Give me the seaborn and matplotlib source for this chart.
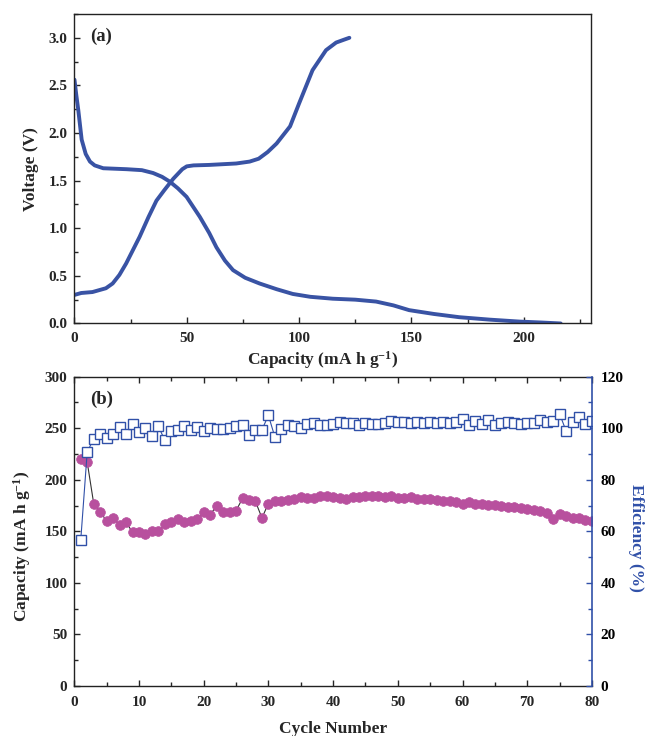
import numpy as np
import pandas as pd
import matplotlib
matplotlib.use("Agg")
import matplotlib.pyplot as plt
from matplotlib.ticker import MultipleLocator
import seaborn as sns

# ---------------- data ----------------
charge_cap = [0, 3, 8, 14, 17, 20, 23, 26, 29, 33, 36.5, 40, 44, 48, 50, 53, 60, 72,
              78, 82, 86, 90, 96, 100, 106, 112, 116.5, 120, 122.4]
charge_v = [0.30, 0.32, 0.33, 0.37, 0.42, 0.51, 0.63, 0.77, 0.91, 1.12, 1.29, 1.40, 1.52,
            1.62, 1.65, 1.66, 1.665, 1.68, 1.70, 1.73, 1.80, 1.89, 2.07, 2.31, 2.66, 2.87,
            2.95, 2.98, 3.00]

discharge_cap = [0, 0.8, 1.7, 3.2, 5, 6.9, 9, 12.8, 18, 23.2, 30, 35, 39, 42.4, 46, 49.9,
                 55.8, 60, 63.2, 67, 70.6, 76, 82.4, 90, 97.2, 105, 115, 125, 134.3, 142,
                 149, 160, 171.3, 185, 198, 208, 216.5]
discharge_v = [2.56, 2.40, 2.24, 1.93, 1.78, 1.70, 1.66, 1.63, 1.625, 1.62, 1.61, 1.58,
               1.54, 1.49, 1.42, 1.33, 1.12, 0.95, 0.80, 0.66, 0.56, 0.48, 0.42, 0.36,
               0.31, 0.28, 0.26, 0.25, 0.23, 0.19, 0.14, 0.10, 0.066, 0.04, 0.02, 0.01, 0.0]

cycles = list(range(1, 81))
capacity = [220, 217, 177, 169, 160, 163, 156, 159, 149, 149, 147, 150, 150, 157, 159, 162,
            159, 160, 162, 169, 166, 175, 169, 169, 170, 182, 180, 179, 163, 177, 179, 179,
            180, 181, 183, 182, 182, 184, 184, 183, 182, 181, 183, 183, 184, 184, 184, 183,
            184, 182, 182, 183, 181, 181, 181, 180, 179, 179, 178, 177, 178, 177, 177, 176,
            176, 175, 174, 174, 173, 172, 171, 170, 168, 162, 167, 165, 163, 163, 161, 160]
efficiency = [56.7, 90.9, 95.8, 97.9, 96.3, 97.9, 100.3, 97.9, 101.7, 98.4, 100.1, 96.8,
              100.7, 95.3, 98.8, 99.4, 101.0, 99.4, 100.3, 98.8, 99.9, 99.8, 99.8, 99.9,
              100.7, 101.4, 97.3, 99.4, 99.4, 105.0, 96.6, 99.8, 101.2, 100.7, 100.1, 101.6,
              102.0, 101.4, 101.1, 101.6, 102.4, 102.0, 102.2, 101.4, 102.2, 101.6, 101.6,
              102.0, 102.9, 102.4, 102.5, 102.0, 102.5, 102.2, 102.5, 102.2, 102.3, 102.0,
              102.3, 103.7, 101.1, 102.7, 101.6, 103.1, 101.3, 102.0, 102.4, 102.0, 101.6,
              102.0, 102.0, 103.1, 102.3, 102.7, 105.6, 99.0, 102.3, 104.2, 101.7, 102.7]

top_xticks = [0, 50, 100, 150, 200]
top_yticks = [0.0, 0.5, 1.0, 1.5, 2.0, 2.5, 3.0]
bot_xticks = [0, 10, 20, 30, 40, 50, 60, 70, 80]
cap_ticks = [0, 50, 100, 150, 200, 250, 300]
eff_ticks = [0, 20, 40, 60, 80, 100, 120]

# ---------------- style ----------------
sns.set_theme(style="ticks")
plt.rcParams["font.family"] = ["Liberation Serif", "DejaVu Serif"]
plt.rcParams["font.weight"] = "bold"
plt.rcParams["axes.labelweight"] = "bold"
plt.rcParams["mathtext.fontset"] = "custom"
plt.rcParams["mathtext.rm"] = "Liberation Serif:bold"
plt.rcParams["mathtext.bf"] = "Liberation Serif:bold"
plt.rcParams["mathtext.it"] = "Liberation Serif:bold:italic"
plt.rcParams["xtick.direction"] = "in"
plt.rcParams["ytick.direction"] = "in"

LINE_BLUE = "#3953A4"
SQ_BLUE = "#3050A8"
MAGENTA = "#B8509E"
TICK_FS = 11
LAB_FS = 12.5

fig = plt.figure(figsize=(6.46, 7.36), dpi=100)
ax1 = fig.add_axes([0.1153, 0.5605, 0.7996, 0.4205])
ax2 = fig.add_axes([0.1150, 0.0679, 0.8013, 0.4203])

# ---------------- panel (a) ----------------
df_c = pd.DataFrame({"cap": charge_cap, "v": charge_v})
df_d = pd.DataFrame({"cap": discharge_cap, "v": discharge_v})
sns.lineplot(data=df_c, x="cap", y="v", ax=ax1, color=LINE_BLUE, lw=2.8,
             sort=False, estimator=None, solid_capstyle="round")
sns.lineplot(data=df_d, x="cap", y="v", ax=ax1, color=LINE_BLUE, lw=2.8,
             sort=False, estimator=None, solid_capstyle="round")
ax1.set_xlim(0, 230)
ax1.set_ylim(0, 3.25)
ax1.set_xticks(top_xticks)
ax1.set_yticks(top_yticks)
ax1.set_yticklabels([f"{t:.1f}" for t in top_yticks])
ax1.xaxis.set_minor_locator(MultipleLocator(25))
ax1.yaxis.set_minor_locator(MultipleLocator(0.25))
ax1.tick_params(which="major", length=4, width=1, labelsize=TICK_FS)
ax1.tick_params(axis="x", which="major", pad=6)
ax1.tick_params(axis="y", which="major", pad=5)
ax1.tick_params(which="minor", length=3, width=1)
ax1.set_xlabel(r"Capacity (mA h g$^{-1}$)", fontsize=LAB_FS, labelpad=1)
ax1.xaxis.set_label_coords(0.48, -0.083)
ax1.set_ylabel("Voltage (V)", fontsize=LAB_FS, labelpad=7)
for s in ax1.spines.values():
    s.set_linewidth(1.0)
    s.set_color("#222222")
ax1.text(0.03, 0.955, "(a)", transform=ax1.transAxes, fontsize=13.5, fontweight="bold",
         va="top", ha="left")

# ---------------- panel (b) ----------------
df_b = pd.DataFrame({"cycle": cycles, "capacity": capacity, "eff": efficiency})
sns.lineplot(data=df_b, x="cycle", y="capacity", ax=ax2, color="#333333", lw=0.8,
             marker="o", markersize=7, markerfacecolor=MAGENTA, markeredgecolor=MAGENTA,
             markeredgewidth=0.5, estimator=None, sort=False)
ax2.set_xlim(0, 80)
ax2.set_ylim(0, 300)
ax2.set_xticks(bot_xticks)
ax2.set_yticks(cap_ticks)
ax2.xaxis.set_minor_locator(MultipleLocator(5))
ax2.yaxis.set_minor_locator(MultipleLocator(25))
ax2.tick_params(which="both", top=True)
ax2.tick_params(which="major", length=4, width=1, labelsize=TICK_FS)
ax2.tick_params(axis="x", which="major", pad=7)
ax2.tick_params(axis="y", which="major", pad=5)
ax2.tick_params(which="minor", length=3, width=1)
ax2.set_xlabel("Cycle Number", fontsize=LAB_FS, labelpad=9)
ax2.set_ylabel(r"Capacity (mA h g$^{-1}$)", fontsize=LAB_FS, labelpad=5)
ax2.yaxis.set_label_coords(-0.079, 0.45)
for s in ax2.spines.values():
    s.set_linewidth(1.0)
    s.set_color("#222222")
ax2.spines["right"].set_visible(False)
ax2.text(0.03, 0.955, "(b)", transform=ax2.transAxes, fontsize=13.5, fontweight="bold",
         va="top", ha="left")

ax3 = ax2.twinx()
sns.lineplot(data=df_b, x="cycle", y="eff", ax=ax3, color=SQ_BLUE, lw=0.8,
             marker="s", markersize=6.5, markerfacecolor="white", markeredgecolor=SQ_BLUE,
             markeredgewidth=1.0, estimator=None, sort=False)
ax3.set_ylim(0, 120)
ax3.set_xlim(0, 80)
ax3.set_yticks(eff_ticks)
ax3.yaxis.set_minor_locator(MultipleLocator(10))
ax3.tick_params(axis="y", which="major", length=4, width=1, labelsize=TICK_FS,
                colors=SQ_BLUE, labelcolor="black", pad=6)
ax3.tick_params(axis="y", which="minor", length=3, width=1, colors=SQ_BLUE)
for k in ["left", "top", "bottom"]:
    ax3.spines[k].set_visible(False)
ax3.spines["right"].set_visible(True)
ax3.spines["right"].set_color(SQ_BLUE)
ax3.spines["right"].set_linewidth(1.2)
ax3.set_ylabel("Efficiency (%)", fontsize=LAB_FS, color=SQ_BLUE, rotation=270,
               labelpad=16)
ax3.yaxis.set_label_coords(1.1, 0.48)
ax3.set_xlabel("")

fig.savefig("out.png", dpi=100)
